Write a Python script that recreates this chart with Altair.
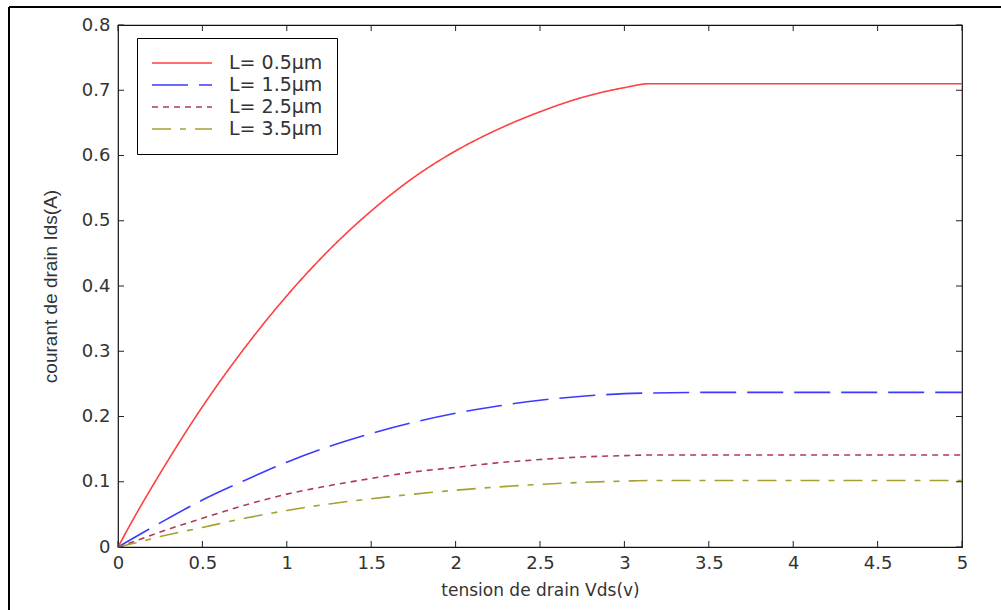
import altair as alt
import pandas as pd

# ---- data ----
vds = [0, 0.1, 0.25, 0.5, 0.75, 1.0, 1.25, 1.5, 1.75, 2.0, 2.25, 2.5, 2.75, 3.0, 3.15, 3.5, 4.0, 4.5, 5.0]
ids_05 = [0, 0.047, 0.113, 0.215, 0.305, 0.385, 0.455, 0.515, 0.566, 0.607, 0.64, 0.667, 0.689, 0.704, 0.71, 0.71, 0.71, 0.71, 0.71]
ids_15 = [0, 0.015, 0.037, 0.072, 0.102, 0.130, 0.154, 0.174, 0.191, 0.205, 0.216, 0.225, 0.231, 0.235, 0.236, 0.237, 0.237, 0.237, 0.237]
ids_25 = [0, 0.009, 0.023, 0.044, 0.064, 0.081, 0.094, 0.105, 0.115, 0.122, 0.129, 0.134, 0.138, 0.140, 0.141, 0.141, 0.141, 0.141, 0.141]
ids_35 = [0, 0.006, 0.016, 0.030, 0.044, 0.056, 0.066, 0.074, 0.081, 0.087, 0.092, 0.096, 0.099, 0.101, 0.102, 0.102, 0.102, 0.102, 0.102]

labels = ["L= 0.5µm", "L= 1.5µm", "L= 2.5µm", "L= 3.5µm"]
colors = ["#ff4040", "#3b3bff", "#b03a55", "#a6a030"]
dashes = [[1, 0], [36, 11], [6, 5], [19, 9, 6, 9]]

x_ticks = [0, 0.5, 1, 1.5, 2, 2.5, 3, 3.5, 4, 4.5, 5]
y_ticks = [0, 0.1, 0.2, 0.3, 0.4, 0.5, 0.6, 0.7, 0.8]

rows = []
for lab, ys in zip(labels, [ids_05, ids_15, ids_25, ids_35]):
    for xv, yv in zip(vds, ys):
        rows.append({"serie": lab, "vds": xv, "ids": yv})
df = pd.DataFrame(rows)

W, H = 844, 522
TXT = "#333333"

xscale = alt.Scale(domain=[0, 5], nice=False, zero=False)
yscale = alt.Scale(domain=[0, 0.8], nice=False, zero=False)

legend = alt.Legend(orient="none", legendX=19, legendY=13, title=None,
                    symbolType="stroke", symbolSize=3600,
                    symbolStrokeWidth=1.6, clipHeight=22, rowPadding=0,
                    labelFont="DejaVu Sans", labelFontSize=19,
                    labelColor=TXT, labelOffset=16,
                    strokeColor="black", fillColor="white",
                    padding=14)

lines = alt.Chart(df).mark_line(strokeWidth=1.6, interpolate="monotone").encode(
    x=alt.X("vds:Q", scale=xscale,
            axis=alt.Axis(values=x_ticks, format="~g", title="tension de drain Vds(v)",
                          grid=False, ticks=False, domain=False, labelFlush=False,
                          labelFont="DejaVu Sans", labelFontSize=18, labelColor=TXT,
                          labelPadding=7, titleFont="DejaVu Sans", titleFontSize=17,
                          titleFontWeight="normal", titleColor=TXT, titlePadding=10)),
    y=alt.Y("ids:Q", scale=yscale,
            axis=alt.Axis(values=y_ticks, format="~g", title="courant de drain Ids(A)",
                          grid=False, ticks=False, domain=False, labelFlush=False,
                          labelFont="DejaVu Sans", labelFontSize=18, labelColor=TXT,
                          labelPadding=8, titleFont="Liberation Sans", titleFontSize=19,
                          titleFontWeight="normal", titleColor=TXT, titlePadding=21)),
    color=alt.Color("serie:N", scale=alt.Scale(domain=labels, range=colors), legend=legend),
    strokeDash=alt.StrokeDash("serie:N", scale=alt.Scale(domain=labels, range=dashes), legend=legend),
)

xt = alt.Chart(pd.DataFrame({"vds": x_ticks}))
yt = alt.Chart(pd.DataFrame({"ids": y_ticks}))
tick_col = "#222222"
ticks_bottom = xt.mark_rule(color=tick_col).encode(
    x=alt.X("vds:Q", scale=xscale), y=alt.value(H), y2=alt.value(H - 6))
ticks_top = xt.mark_rule(color=tick_col).encode(
    x=alt.X("vds:Q", scale=xscale), y=alt.value(0), y2=alt.value(6))
ticks_left = yt.mark_rule(color=tick_col).encode(
    y=alt.Y("ids:Q", scale=yscale), x=alt.value(0), x2=alt.value(6))
ticks_right = yt.mark_rule(color=tick_col).encode(
    y=alt.Y("ids:Q", scale=yscale), x=alt.value(W), x2=alt.value(W - 6))

frame_top = alt.Chart(pd.DataFrame({"a": [0]})).mark_rule(color="black", strokeWidth=2).encode(
    x=alt.value(-109), x2=alt.value(1001 - 118), y=alt.value(-18))
frame_left = alt.Chart(pd.DataFrame({"a": [0]})).mark_rule(color="black", strokeWidth=2).encode(
    x=alt.value(-109), y=alt.value(-18), y2=alt.value(610 - 25))

chart = alt.layer(
    lines, ticks_bottom, ticks_top, ticks_left, ticks_right, frame_top, frame_left
).properties(
    width=W, height=H,
    autosize=alt.AutoSizeParams(type="none"),
    padding={"left": 118, "top": 25, "right": 1001 - 118 - W, "bottom": 610 - 25 - H},
    background="white",
).configure_view(stroke="#111111", strokeWidth=1.2)

chart.save("out.html", embed_options={"renderer": "svg", "actions": False})
